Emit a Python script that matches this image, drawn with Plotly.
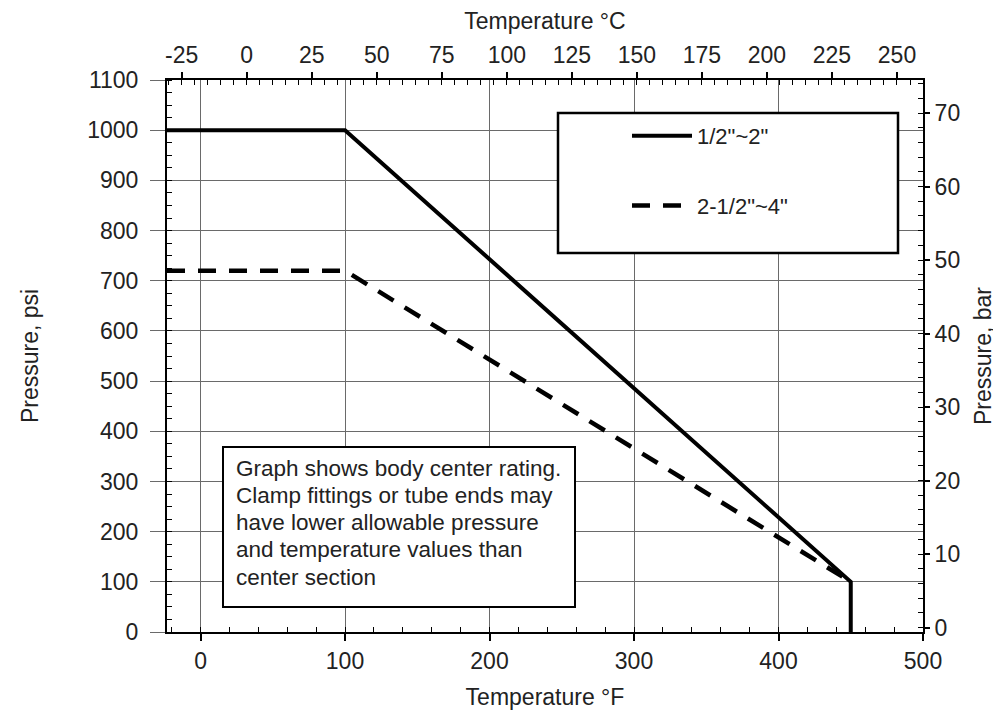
import plotly.graph_objects as go

# ---- data ----
temp_f_small = [-23.2, 100, 450, 450]      # deg F
press_small = [1000, 1000, 100, 0]         # psi, 1/2"~2"
temp_f_large = [-23.2, 100, 450]           # deg F
press_large = [720, 720, 100]              # psi, 2-1/2"~4"

name_small = '1/2"~2"'
name_large = '2-1/2"~4"'

x_ticks_f = [0, 100, 200, 300, 400, 500]
x_ticks_c = [-25, 0, 25, 50, 75, 100, 125, 150, 175, 200, 225, 250]
y_ticks_psi = [0, 100, 200, 300, 400, 500, 600, 700, 800, 900, 1000, 1100]
y_ticks_bar = [0, 10, 20, 30, 40, 50, 60, 70]

note_lines = [
    "Graph shows body center rating.",
    "Clamp fittings or tube ends may",
    "have lower allowable pressure",
    "and temperature values than",
    "center section",
]

# ---- scales ----
F_RANGE = [-23.2, 500]
C_RANGE = [(F_RANGE[0] - 32) / 1.8, (F_RANGE[1] - 32) / 1.8]
PSI_RANGE = [0, 1100]
BAR_RANGE = [-0.6, 74.5]
PSI_PER_BAR = 14.5038

FONT = "Liberation Sans, Arial, Helvetica, sans-serif"
TXT = "#222222"
GRID = "#6a6a6a"

# page offset of the plotly div (browser body margin)
OFF = 8
W, H = 1001 - OFF, 710 - OFF
PL, PR, PT, PB = 167, 923, 80, 632   # plot area in page pixels


def px_x(p):
    return (p - PL) / (PR - PL)


def px_y(p):
    return (PB - p) / (PB - PT)


fig = go.Figure()
fig.add_trace(go.Scatter(
    x=temp_f_small, y=press_small, name=name_small, mode="lines",
    line=dict(color="black", width=4), legendgroup="a",
))
fig.add_trace(go.Scatter(
    x=temp_f_large, y=press_large, name=name_large, mode="lines",
    line=dict(color="black", width=4.5, dash="18px,13px"), legendgroup="b",
))
# invisible companions so the °C and bar axes are drawn
fig.add_trace(go.Scatter(
    x=[(t - 32) / 1.8 for t in temp_f_small], y=press_small, xaxis="x2", yaxis="y",
    mode="lines", line=dict(width=0, color="rgba(0,0,0,0)"), showlegend=False, hoverinfo="skip",
))
fig.add_trace(go.Scatter(
    x=temp_f_small, y=[p / PSI_PER_BAR for p in press_small], xaxis="x", yaxis="y2",
    mode="lines", line=dict(width=0, color="rgba(0,0,0,0)"), showlegend=False, hoverinfo="skip",
))

fig.update_layout(
    width=W, height=H,
    margin=dict(l=PL - OFF, r=W + OFF - PR, t=PT - OFF, b=H + OFF - PB, autoexpand=False),
    paper_bgcolor="white", plot_bgcolor="white",
    font=dict(family=FONT, size=22, color=TXT),
    showlegend=True,
    legend=dict(
        x=px_x(627), y=px_y(115), xanchor="left", yanchor="top",
        bgcolor="rgba(0,0,0,0)", borderwidth=0,
        font=dict(family=FONT, size=22, color=TXT),
        itemwidth=60, tracegroupgap=38,
    ),
    xaxis=dict(
        range=F_RANGE, tickvals=x_ticks_f, showgrid=True, gridcolor=GRID, gridwidth=1.3,
        zeroline=False, showline=True, linecolor="black", linewidth=2, automargin=False,
        ticks="outside", ticklen=7, tickwidth=1.5, tickcolor="black",
        minor=dict(dtick=20, tick0=0, ticks="inside", ticklen=5, tickwidth=1.3,
                   tickcolor="black", showgrid=False),
        title=dict(text="Temperature °F", font=dict(size=23), standoff=20),
        tickfont=dict(size=23),
    ),
    xaxis2=dict(
        range=C_RANGE, overlaying="x", side="top", anchor="y", automargin=False,
        tickvals=x_ticks_c, ticktext=[str(v) for v in x_ticks_c],
        showgrid=False, zeroline=False,
        showline=True, linecolor="black", linewidth=2,
        ticks="outside", ticklen=6, tickwidth=1.5, tickcolor="black",
        minor=dict(dtick=5, tick0=0, ticks="inside", ticklen=5, tickwidth=1.3,
                   tickcolor="black", showgrid=False),
        title=dict(text="Temperature °C", font=dict(size=23), standoff=14),
        tickfont=dict(size=23),
    ),
    yaxis=dict(
        range=PSI_RANGE, tickvals=y_ticks_psi, showgrid=True, gridcolor=GRID, gridwidth=1.3,
        zeroline=False, showline=True, linecolor="black", linewidth=2, automargin=False,
        ticks="outside", ticklen=15, tickwidth=1.3, tickcolor=GRID, ticklabelstandoff=7,
        minor=dict(dtick=25, tick0=0, ticks="inside", ticklen=5, tickwidth=1.3,
                   tickcolor="black", showgrid=False),
        title=dict(text="Pressure, psi", font=dict(size=23), standoff=42),
        tickfont=dict(size=23),
    ),
    yaxis2=dict(
        range=BAR_RANGE, overlaying="y", side="right", anchor="x", automargin=False,
        tickvals=y_ticks_bar, showgrid=False, zeroline=False,
        showline=True, linecolor="black", linewidth=2,
        ticks="outside", ticklen=5, tickwidth=1.5, tickcolor="black",
        minor=dict(dtick=2, tick0=0, ticks="inside", ticklen=5, tickwidth=1.3,
                   tickcolor="black", showgrid=False),
        title=dict(text="Pressure, bar", font=dict(size=23), standoff=16),
        tickfont=dict(size=23),
    ),
)

# legend frame
fig.add_shape(type="rect", xref="paper", yref="paper",
              x0=px_x(558), x1=px_x(898), y0=px_y(253), y1=px_y(113),
              line=dict(color="black", width=2.5), fillcolor="white", layer="above")

# note box and its text lines
fig.add_shape(type="rect", xref="paper", yref="paper",
              x0=px_x(223), x1=px_x(575), y0=px_y(607), y1=px_y(447),
              line=dict(color="black", width=2), fillcolor="white", layer="above")
LINE_STEP = 27.25
for i, line in enumerate(note_lines):
    fig.add_annotation(
        xref="paper", yref="paper",
        x=px_x(234), y=px_y(468 + i * LINE_STEP), xanchor="left", yanchor="middle",
        text=line, align="left", showarrow=False,
        font=dict(family=FONT, size=22.5, color=TXT),
    )

fig.write_html("out.html")
